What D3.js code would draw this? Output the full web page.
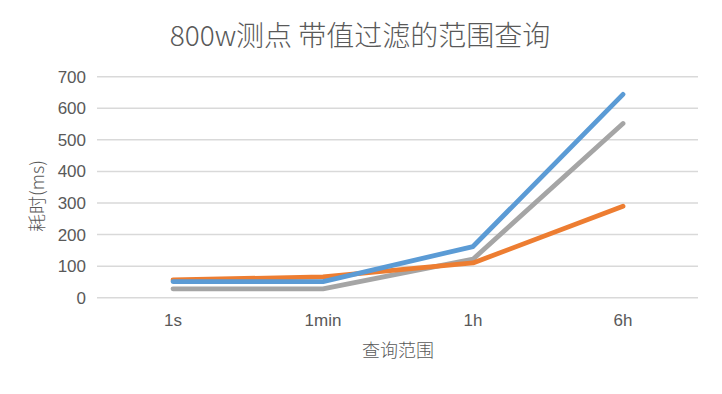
<!DOCTYPE html>
<html><head><meta charset="utf-8">
<script src="https://cdn.jsdelivr.net/npm/d3@7"></script>
<style>
html,body{margin:0;padding:0;background:#fff;}
text{font-family:"Liberation Sans","Noto Sans CJK SC",sans-serif;fill:#595959;}
.cjk{font-family:"Noto Sans CJK SC",sans-serif;font-weight:300;}
</style></head>
<body>
<svg id="chart" width="722" height="394"></svg>
<script>
const categories = ["1s", "1min", "1h", "6h"];
const seriesBlue = [51, 51, 162, 644];
const seriesOrange = [56, 66, 110, 290];
const seriesGray = [28, 28, 122, 552];
const yTicks = [0, 100, 200, 300, 400, 500, 600, 700];
const titleText = "800w测点 带值过滤的范围查询";
const xTitle = "查询范围";
const yTitle = "耗时(ms)";

const series = [
  {values: seriesGray, color: "#A5A5A5"},
  {values: seriesOrange, color: "#ED7D31"},
  {values: seriesBlue, color: "#5B9BD5"}
];

const svg = d3.select("#chart");
const x = d3.scaleBand().domain(categories).range([98, 698]).padding(0);
const y = d3.scaleLinear().domain([0, 700]).range([297.7, 76.7]);

// gridlines
svg.append("g").selectAll("line").data(yTicks).join("line")
  .attr("x1", 97).attr("x2", 698)
  .attr("y1", d => y(d)).attr("y2", d => y(d))
  .attr("stroke", "#D9D9D9").attr("stroke-width", 1.5);

// y axis labels
const yAxis = d3.axisLeft(y).tickValues(yTicks).tickSize(0).tickPadding(0);
const ya = svg.append("g").attr("transform", "translate(86,0)").call(yAxis);
ya.select(".domain").remove();
ya.selectAll("text").attr("font-size", 17).attr("fill", "#595959")
  .style("font-family", "Liberation Sans, sans-serif");

// x axis labels
const xAxis = d3.axisBottom(x).tickSize(0).tickPadding(0);
const xa = svg.append("g").attr("transform", "translate(0,314)").call(xAxis);
xa.select(".domain").remove();
xa.selectAll("text").attr("font-size", 17).attr("fill", "#595959")
  .style("font-family", "Liberation Sans, sans-serif");

// lines
const line = d3.line().x((d, i) => x(categories[i]) + x.bandwidth() / 2).y(d => y(d));
svg.append("g").selectAll("path").data(series).join("path")
  .attr("d", d => line(d.values))
  .attr("fill", "none")
  .attr("stroke", d => d.color)
  .attr("stroke-width", 4.8)
  .attr("stroke-linejoin", "round")
  .attr("stroke-linecap", "round");

// title
svg.append("text").attr("class", "cjk")
  .attr("x", 360).attr("y", 46)
  .attr("text-anchor", "middle")
  .attr("font-size", 28)
  .text(titleText);

// x title
svg.append("text").attr("class", "cjk")
  .attr("x", 398).attr("y", 357)
  .attr("text-anchor", "middle")
  .attr("font-size", 18)
  .text(xTitle);

// y title
svg.append("text").attr("class", "cjk")
  .attr("transform", "translate(44,196) rotate(-90)")
  .attr("text-anchor", "middle")
  .attr("font-size", 18)
  .text(yTitle);
</script>
</body></html>
